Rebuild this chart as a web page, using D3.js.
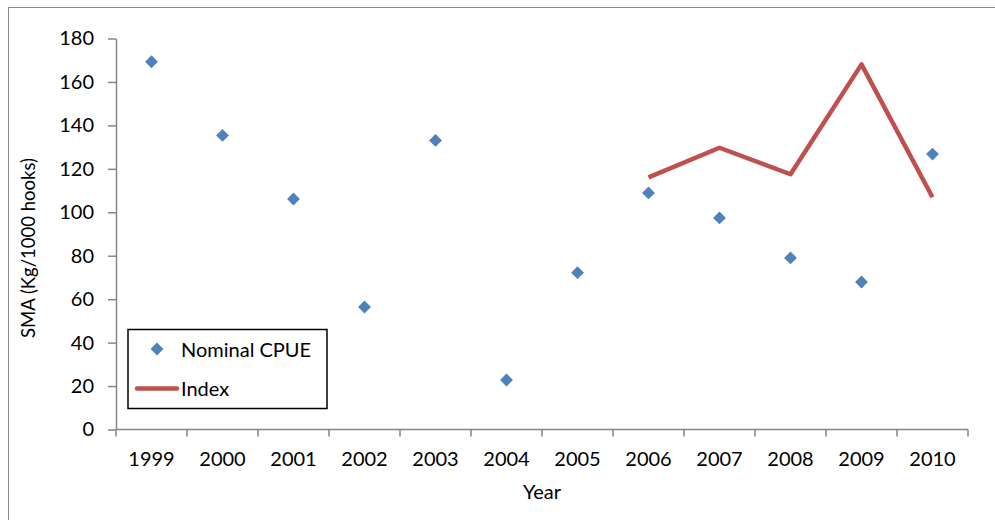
<!DOCTYPE html>
<html>
<head>
<meta charset="utf-8">
<script src="https://cdn.jsdelivr.net/npm/d3@7"></script>
<style>
  html, body { margin: 0; padding: 0; background: #fff; }
  svg { display: block; }
  text { font-family: Lato, "Open Sans", sans-serif; fill: #000; }
</style>
</head>
<body>
<svg id="chart" width="995" height="520"></svg>
<script>
// Categories and series
const years = ["1999", "2000", "2001", "2002", "2003", "2004", "2005", "2006", "2007", "2008", "2009", "2010"];
const nominalCPUE = [169.3, 135.4, 106.1, 56.4, 133.1, 22.8, 72.2, 108.9, 97.4, 79.0, 67.9, 126.8];
const indexYears = ["2006", "2007", "2008", "2009", "2010"];
const indexValues = [116.1, 129.7, 117.5, 168.1, 106.9];
const yTicks = [0, 20, 40, 60, 80, 100, 120, 140, 160, 180];

const svg = d3.select("#chart");
const W = 995, H = 520;
const fontSize = 20;

// Chart area frame
svg.append("rect")
  .attr("x", 8.5).attr("y", 7.5)
  .attr("width", W + 20).attr("height", H + 20)
  .attr("fill", "#fff").attr("stroke", "#8c8c8c").attr("stroke-width", 1);

const plot = { left: 116, right: 968, top: 38.5, bottom: 429.5 };

const x = d3.scaleBand().domain(years).range([plot.left, plot.right]).paddingInner(0).paddingOuter(0);
const y = d3.scaleLinear().domain([0, 180]).range([plot.bottom, plot.top]);

const axisColor = "#868686";

// Y axis
const yAxis = svg.append("g")
  .attr("transform", `translate(${plot.left},0)`)
  .call(d3.axisLeft(y).tickValues(yTicks).tickSize(8).tickPadding(14).tickSizeOuter(0));
yAxis.select(".domain").attr("stroke", axisColor).attr("stroke-width", 1.5);
yAxis.selectAll(".tick line").attr("stroke", axisColor).attr("stroke-width", 1.5);
yAxis.selectAll(".tick text").attr("font-size", fontSize).attr("font-family", "Lato, sans-serif").attr("fill", "#000");

// X axis: ticks sit on the category boundaries
const xAxisG = svg.append("g").attr("transform", `translate(0,${plot.bottom})`);
xAxisG.append("line")
  .attr("x1", plot.left).attr("x2", plot.right)
  .attr("stroke", axisColor).attr("stroke-width", 1.5);
const boundaries = years.map(d => x(d)).concat([x(years[years.length - 1]) + x.bandwidth()]);
xAxisG.selectAll("line.tick")
  .data(boundaries)
  .join("line")
  .attr("class", "tick")
  .attr("x1", d => d).attr("x2", d => d)
  .attr("y1", 0).attr("y2", 7)
  .attr("stroke", axisColor).attr("stroke-width", 1.5);
xAxisG.selectAll("text.lbl")
  .data(years)
  .join("text")
  .attr("class", "lbl")
  .attr("x", d => x(d) + x.bandwidth() / 2)
  .attr("y", 36.5)
  .attr("text-anchor", "middle")
  .attr("font-size", fontSize)
  .text(d => d);

// Axis titles
svg.append("text")
  .attr("transform", `translate(35,248) rotate(-90)`)
  .attr("text-anchor", "middle")
  .attr("font-size", 18.5)
  .text("SMA (Kg/1000 hooks)");
svg.append("text")
  .attr("x", 542).attr("y", 499)
  .attr("text-anchor", "middle")
  .attr("font-size", fontSize)
  .text("Year");

const cx = d => x(d) + x.bandwidth() / 2;
const diamond = d3.symbol().type(d3.symbolDiamond2).size(105);

// Index line
const line = d3.line().x((d, i) => cx(indexYears[i])).y(d => y(d));
svg.append("path")
  .datum(indexValues)
  .attr("d", line)
  .attr("fill", "none")
  .attr("stroke", "#C0504D")
  .attr("stroke-width", 4.5)
  .attr("stroke-linejoin", "round");

// Nominal CPUE markers
svg.selectAll("path.pt")
  .data(nominalCPUE)
  .join("path")
  .attr("class", "pt")
  .attr("d", diamond)
  .attr("transform", (d, i) => `translate(${cx(years[i])},${y(d)})`)
  .attr("fill", "#4F81BD");

// Legend
const lg = svg.append("g");
lg.append("rect")
  .attr("x", 128).attr("y", 329.5)
  .attr("width", 199).attr("height", 79)
  .attr("fill", "#fff").attr("stroke", "#000").attr("stroke-width", 1.5);
lg.append("path")
  .attr("d", diamond)
  .attr("transform", "translate(157,349)")
  .attr("fill", "#4F81BD");
lg.append("text")
  .attr("x", 181).attr("y", 356.5)
  .attr("font-size", fontSize)
  .text("Nominal CPUE");
lg.append("line")
  .attr("x1", 137).attr("x2", 177)
  .attr("y1", 388.5).attr("y2", 388.5)
  .attr("stroke", "#C0504D").attr("stroke-width", 4.5)
  .attr("stroke-linecap", "round");
lg.append("text")
  .attr("x", 181).attr("y", 396)
  .attr("font-size", fontSize)
  .text("Index");
</script>
</body>
</html>
